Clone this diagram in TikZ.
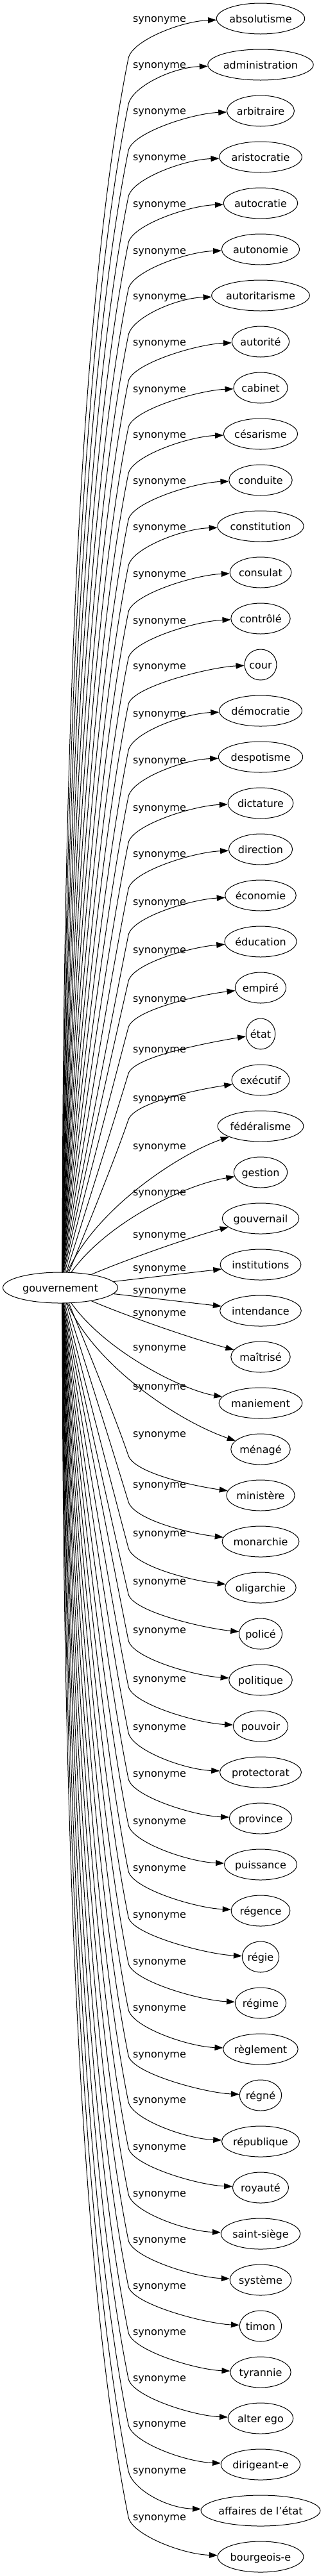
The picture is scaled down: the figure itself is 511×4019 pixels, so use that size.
\documentclass[tikz,border=0pt]{standalone}
\usepackage{fontspec}
\setmainfont{DejaVu Sans}
\usetikzlibrary{arrows.meta,shapes.geometric,calc}
\newlength\twd
\tikzset{
  nd/.style={ellipse, draw, line width=1pt, inner sep=0pt, text height=12pt, text depth=0pt, minimum height=48pt, font=\fontsize{16}{19}\selectfont},
  conn/.style={line width=1pt, -{Triangle[length=13pt,width=9pt]}},
  lab/.style={anchor=base, inner sep=0pt, font=\fontsize{16}{19}\selectfont},
}
\newcommand\tnode[3]{%
  \settowidth\twd{\fontsize{16}{19}\selectfont #3}%
  \pgfmathsetlengthmacro\nw{1.24*\twd+33pt}%
  \pgfmathsetmacro\yy{29+72*#2}%
  \node[nd, minimum width=\nw] (#1) at (406,\yy) {#3};%
}
\newcommand\faredge[1]{%
  \pgfmathsetmacro\yt{29+72*#1}%
  \pgfmathsetmacro\sg{\yt<2009 ? 1 : -1}%
  \pgfmathsetmacro\D{abs(2009-\yt)}%
  \pgfmathsetmacro\Sx{97+45*exp(-(\D-100)/150)}%
  \pgfmathsetmacro\Sy{2009-(\sg)*24*sqrt(1-((\Sx-94)/89.5)^2)}%
  \pgfmathsetmacro\By{\yt+(\sg)*62}%
  \pgfmathsetmacro\L{abs(\Sy-\By)}%
  \pgfmathsetmacro\Qy{\By+(\sg)*0.27*\L}%
  \pgfmathsetmacro\sB{max(0.2,0.2+(600-\D)*0.0005)}%
  \pgfmathsetmacro\Qx{max(\Sx,200-\sB*0.27*\L)}%
  \pgfmathsetmacro\Pax{\Sx+2/3*(\Qx-\Sx)}%
  \pgfmathsetmacro\Pay{\Sy+2/3*(\Qy-\Sy)}%
  \pgfmathsetmacro\Pbx{200+2/3*(\Qx-200)}%
  \pgfmathsetmacro\Pby{\By+2/3*(\Qy-\By)}%
  \pgfmathsetmacro\dn{veclen(200-\Qx,\By-\Qy)}%
  \pgfmathsetmacro\Pcx{200+28*(200-\Qx)/\dn}%
  \pgfmathsetmacro\Pcy{\By+28*(\By-\Qy)/\dn}%
  \pgfmathsetmacro\ee{(\sg)*(4+max(0,700-\D)*0.03)}%
  \draw[conn] (\Sx,\Sy) .. controls (\Pax,\Pay) and (\Pbx,\Pby) .. (200,\By) .. controls (\Pcx,\Pcy) and ($(t#1.west)+(-55,\ee)$) .. (t#1);%
}
\begin{document}
\begin{tikzpicture}[x=1pt,y=-1pt]
\useasboundingbox (0,0) rectangle (511,4019);
\node[nd, minimum width=179pt] (root) at (94,2009) {gouvernement};
\foreach \w [count=\i from 0] in {absolutisme,administration,arbitraire,aristocratie,autocratie,autonomie,autoritarisme,autorité,cabinet,césarisme,conduite,constitution,consulat,contrôlé,cour,démocratie,despotisme,dictature,direction,économie,éducation,empiré,état,exécutif,fédéralisme,gestion,gouvernail,institutions,intendance,maîtrisé,maniement,ménagé,ministère,monarchie,oligarchie,policé,politique,pouvoir,protectorat,province,puissance,régence,régie,régime,règlement,régné,république,royauté,saint-siège,système,timon,tyrannie,alter ego,dirigeant-e,affaires de l'état,bourgeois-e}
  {\tnode{t\i}{\i}{\w}}
\foreach \ly [count=\k] in {29,101,173,245,318,391,462,534,607,678,750,822,895,968,1039,1113,1186,1260,1332,1407,1482,1558,1637,1713,1788,1860,1926,1978,2013,2048,2102,2163,2237,2316,2392,2467,2543,2619,2694,2767,2841,2914,2987,3060,3132,3205,3276,3349,3422,3494,3566,3638,3710,3781,3854,3927}
  {\node[lab] (l\k) at (248.5,\ly+5) {synonyme};}
\foreach \i in {0,...,23} {\faredge{\i}}
\foreach \i in {32,...,55} {\faredge{\i}}
\draw[conn] (root) .. controls (150,1884) and (282,1799) .. (t24);
\draw[conn] (root) .. controls (165,1909) and (285,1849) .. (t25);
\draw[conn] (root) .. controls (190,1968) and (290,1932) .. (t26);
\draw[conn] (root) -- (t27);
\draw[conn] (root) -- (t28);
\draw[conn] (root) .. controls (190,2050) and (290,2086) .. (t29);
\draw[conn] (root) .. controls (165,2109) and (285,2169) .. (t30);
\draw[conn] (root) .. controls (150,2134) and (282,2219) .. (t31);
\end{tikzpicture}
\end{document}
